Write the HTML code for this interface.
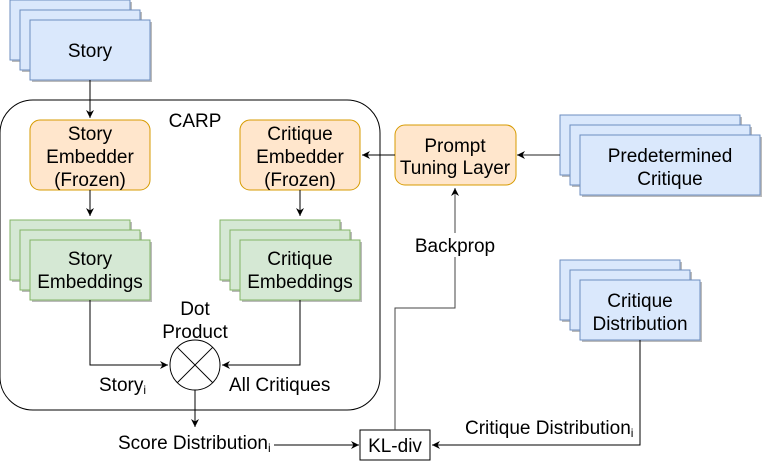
<!DOCTYPE html>
<html><head><meta charset="utf-8"><style>
html,body{margin:0;padding:0;background:#fff;}
svg{display:block;}
text{font-family:"Liberation Sans",Helvetica,Arial,sans-serif;font-size:19px;fill:#000;}
</style></head><body>
<svg width="764" height="461" viewBox="0 0 764 461" xmlns="http://www.w3.org/2000/svg">
<defs>
<marker id="a" markerWidth="10" markerHeight="10" refX="8" refY="5" orient="auto" markerUnits="userSpaceOnUse">
<path d="M0,1 L8,5 L0,9 L2.5,5 Z" fill="#000"/>
</marker>
</defs>
<!-- Story stack -->
<g stroke="#6c8ebf" fill="#dae8fc">
<rect x="12" y="2" width="120" height="60" fill="#bbb" stroke="none"/><rect x="10" y="0" width="120" height="60"/>
<rect x="22" y="12" width="120" height="60" fill="#bbb" stroke="none"/><rect x="20" y="10" width="120" height="60"/>
<rect x="32" y="22" width="120" height="60" fill="#bbb" stroke="none"/><rect x="30" y="20" width="120" height="60"/>
</g>
<text x="90" y="57" text-anchor="middle">Story</text>
<line x1="90" y1="80" x2="90" y2="118" stroke="#000" marker-end="url(#a)"/>

<!-- CARP -->
<rect x="0" y="100" width="380" height="310" rx="33" fill="none" stroke="#000"/>
<text x="195" y="127" text-anchor="middle">CARP</text>

<rect x="30" y="120" width="120" height="70" rx="10" fill="#ffe6cc" stroke="#d79b00"/>
<text x="90" y="140" text-anchor="middle">Story</text>
<text x="90" y="163" text-anchor="middle">Embedder</text>
<text x="90" y="186" text-anchor="middle">(Frozen)</text>
<rect x="240" y="120" width="120" height="70" rx="10" fill="#ffe6cc" stroke="#d79b00"/>
<text x="300" y="140" text-anchor="middle">Critique</text>
<text x="300" y="163" text-anchor="middle">Embedder</text>
<text x="300" y="186" text-anchor="middle">(Frozen)</text>

<line x1="90" y1="190" x2="90" y2="216" stroke="#000" marker-end="url(#a)"/>
<line x1="300" y1="190" x2="300" y2="216" stroke="#000" marker-end="url(#a)"/>

<g stroke="#82b366" fill="#d5e8d4">
<rect x="12" y="222" width="120" height="60" fill="#bbb" stroke="none"/><rect x="10" y="220" width="120" height="60"/>
<rect x="22" y="232" width="120" height="60" fill="#bbb" stroke="none"/><rect x="20" y="230" width="120" height="60"/>
<rect x="32" y="242" width="120" height="60" fill="#bbb" stroke="none"/><rect x="30" y="240" width="120" height="60"/>
<rect x="222" y="222" width="120" height="60" fill="#bbb" stroke="none"/><rect x="220" y="220" width="120" height="60"/>
<rect x="232" y="232" width="120" height="60" fill="#bbb" stroke="none"/><rect x="230" y="230" width="120" height="60"/>
<rect x="242" y="242" width="120" height="60" fill="#bbb" stroke="none"/><rect x="240" y="240" width="120" height="60"/>
</g>
<text x="90" y="265" text-anchor="middle">Story</text>
<text x="90" y="288" text-anchor="middle">Embeddings</text>
<text x="300" y="265" text-anchor="middle">Critique</text>
<text x="300" y="288" text-anchor="middle">Embeddings</text>

<polyline points="90,300 90,365 168,365" fill="none" stroke="#000" marker-end="url(#a)"/>
<polyline points="300,300 300,365 222,365" fill="none" stroke="#000" marker-end="url(#a)"/>
<circle cx="195" cy="365" r="25" fill="#fff" stroke="#000"/>
<line x1="177.3" y1="347.3" x2="212.7" y2="382.7" stroke="#000"/>
<line x1="212.7" y1="347.3" x2="177.3" y2="382.7" stroke="#000"/>
<text x="195" y="315" text-anchor="middle">Dot</text>
<text x="195" y="338" text-anchor="middle">Product</text>
<text x="99" y="391">Story<tspan font-size="12" dy="3">i</tspan></text>
<text x="229" y="391">All Critiques</text>

<line x1="195" y1="390" x2="195" y2="427" stroke="#000" marker-end="url(#a)"/>
<text x="118" y="449">Score Distribution<tspan font-size="12" dy="3">i</tspan></text>
<line x1="274" y1="445" x2="359" y2="445" stroke="#000" marker-end="url(#a)"/>
<rect x="360" y="430" width="70" height="30" fill="#fff" stroke="#000"/>
<text x="395" y="452" text-anchor="middle">KL-div</text>

<polyline points="395,430 395,308 455,308 455,188" fill="none" stroke="#444" marker-end="url(#a)"/>
<rect x="408" y="233" width="94" height="24" fill="#fff"/>
<text x="455" y="252" text-anchor="middle">Backprop</text>

<rect x="395" y="125" width="121" height="60" rx="10" fill="#ffe6cc" stroke="#d79b00"/>
<text x="455" y="152" text-anchor="middle">Prompt</text>
<text x="455" y="174" text-anchor="middle">Tuning Layer</text>
<line x1="395" y1="155" x2="362" y2="155" stroke="#000" marker-end="url(#a)"/>

<g stroke="#6c8ebf" fill="#dae8fc">
<rect x="562" y="117" width="180" height="60" fill="#bbb" stroke="none"/><rect x="560" y="115" width="180" height="60"/>
<rect x="572" y="127" width="180" height="60" fill="#bbb" stroke="none"/><rect x="570" y="125" width="180" height="60"/>
<rect x="582" y="137" width="180" height="60" fill="#bbb" stroke="none"/><rect x="580" y="135" width="180" height="60"/>
<rect x="562" y="262" width="120" height="60" fill="#bbb" stroke="none"/><rect x="560" y="260" width="120" height="60"/>
<rect x="572" y="272" width="120" height="60" fill="#bbb" stroke="none"/><rect x="570" y="270" width="120" height="60"/>
<rect x="582" y="282" width="120" height="60" fill="#bbb" stroke="none"/><rect x="580" y="280" width="120" height="60"/>
</g>
<text x="670" y="162" text-anchor="middle">Predetermined</text>
<text x="670" y="185" text-anchor="middle">Critique</text>
<line x1="560" y1="155" x2="517" y2="155" stroke="#222" marker-end="url(#a)"/>
<text x="640" y="307" text-anchor="middle">Critique</text>
<text x="640" y="330" text-anchor="middle">Distribution</text>
<polyline points="640,340 640,445 432,445" fill="none" stroke="#000" marker-end="url(#a)"/>
<text x="465" y="434">Critique Distribution<tspan font-size="12" dy="3">i</tspan></text>
</svg>
</body></html>
